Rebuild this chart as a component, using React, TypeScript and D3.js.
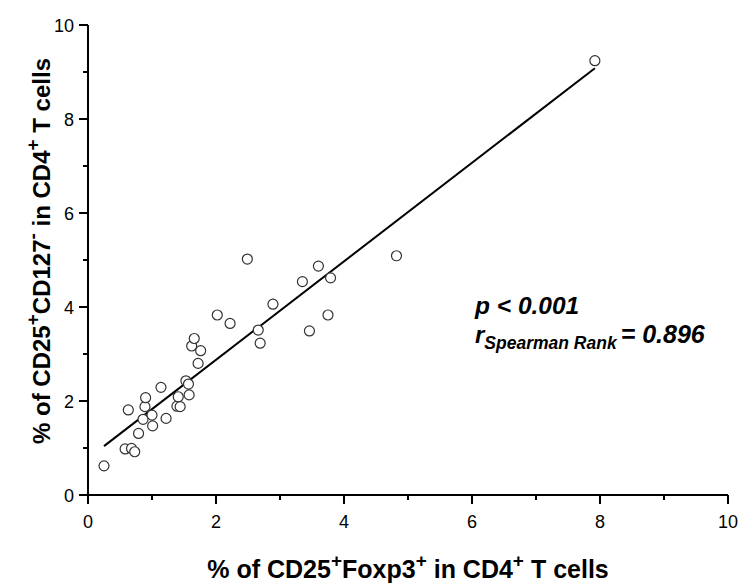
import React from "react";
import * as d3 from "d3";

const W = 739;
const H = 583;

const foxp3X = [
  0.25, 0.58, 0.68, 0.73, 0.63, 0.79, 0.86, 0.89, 0.9, 1.0, 1.01, 1.22,
  1.14, 1.39, 1.44, 1.41, 1.53, 1.57, 1.58, 1.72, 1.76, 1.62, 1.66, 2.02,
  2.22, 2.49, 2.66, 2.69, 2.89, 3.35, 3.6, 3.79, 3.75, 3.46, 4.82, 7.92,
];
const cd127Y = [
  0.62, 0.98, 0.99, 0.92, 1.81, 1.31, 1.61, 1.88, 2.07, 1.7, 1.47, 1.63,
  2.29, 1.89, 1.88, 2.09, 2.43, 2.36, 2.13, 2.8, 3.07, 3.17, 3.33, 3.83,
  3.65, 5.02, 3.51, 3.23, 4.06, 4.54, 4.87, 4.62, 3.83, 3.49, 5.09, 9.24,
];
const fitX = [0.25, 7.92];
const fitY = [1.04, 9.08];
const majorTicks = [0, 2, 4, 6, 8, 10];
const minorTicks = [1, 3, 5, 7, 9];

export default function App() {
  const x = d3.scaleLinear().domain([0, 10]).range([88, 728]);
  const y = d3.scaleLinear().domain([0, 10]).range([495, 25]);
  const line = d3
    .line<number>()
    .x((_, i) => x(fitX[i]))
    .y((d) => y(d));
  const font = "'Liberation Sans', Arial, sans-serif";
  const x0 = x(0);
  const y0 = y(0);
  return (
    <svg
      width={W}
      height={H}
      style={{ position: "absolute", left: 0, top: 0, background: "#fff" }}
      fontFamily={font}
    >
      <rect width={W} height={H} fill="#fff" />
      {/* axes */}
      <line x1={x0} x2={x0} y1={y(10)} y2={y0 + 1} stroke="#000" strokeWidth={2} />
      <line x1={x0 - 1} x2={x(10)} y1={y0} y2={y0} stroke="#000" strokeWidth={2} />
      {majorTicks.map((t) => (
        <g key={"xm" + t}>
          <line x1={x(t)} x2={x(t)} y1={y0} y2={y0 + 9} stroke="#000" strokeWidth={2} />
          <text x={x(t)} y={y0 + 33} textAnchor="middle" fontSize={18}>
            {t}
          </text>
          <line x1={x0 - 9} x2={x0} y1={y(t)} y2={y(t)} stroke="#000" strokeWidth={2} />
          <text x={x0 - 14} y={y(t) + 6.5} textAnchor="end" fontSize={18}>
            {t}
          </text>
        </g>
      ))}
      {minorTicks.map((t) => (
        <g key={"xn" + t}>
          <line x1={x(t)} x2={x(t)} y1={y0} y2={y0 + 5} stroke="#000" strokeWidth={2} />
          <line x1={x0 - 5} x2={x0} y1={y(t)} y2={y(t)} stroke="#000" strokeWidth={2} />
        </g>
      ))}
      {/* regression line */}
      <path d={line(fitY) || ""} fill="none" stroke="#000" strokeWidth={2} />
      {/* points */}
      {foxp3X.map((v, i) => (
        <circle
          key={i}
          cx={x(v)}
          cy={y(cd127Y[i])}
          r={5}
          fill="#fff"
          stroke="#333"
          strokeWidth={1.2}
        />
      ))}
      {/* annotation */}
      <text x={475} y={314} fontSize={24.5} fontWeight="bold" fontStyle="italic">
        p &lt; 0.001
      </text>
      <text x={475} y={343} fontSize={24} fontWeight="bold" fontStyle="italic">
        r
        <tspan fontSize={17.5} dy={6}>Spearman Rank</tspan>
        <tspan fontSize={25} dy={-6} dx={4}>= 0.896</tspan>
      </text>
      {/* x title */}
      <text x={408} y={578} textAnchor="middle" fontSize={25} fontWeight="bold">
        % of CD25<tspan fontSize={19} dy={-11}>+</tspan>
        <tspan dy={11}>Foxp3</tspan>
        <tspan fontSize={19} dy={-11}>+</tspan>
        <tspan dy={11}> in CD4</tspan>
        <tspan fontSize={19} dy={-11}>+</tspan>
        <tspan dy={11}> T cells</tspan>
      </text>
      {/* y title */}
      <text
        transform={`translate(50,251) rotate(-90)`}
        textAnchor="middle"
        fontSize={24}
        fontWeight="bold"
      >
        % of CD25<tspan fontSize={19} dy={-11}>+</tspan>
        <tspan dy={11}>CD127</tspan>
        <tspan fontSize={19} dy={-11}>-</tspan>
        <tspan dy={11}> in CD4</tspan>
        <tspan fontSize={19} dy={-11}>+</tspan>
        <tspan dy={11}> T cells</tspan>
      </text>
    </svg>
  );
}
